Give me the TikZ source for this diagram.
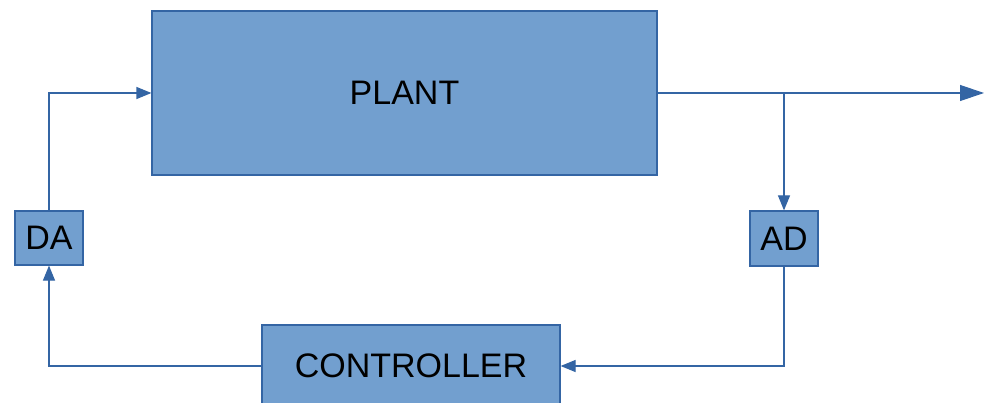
\documentclass[tikz,border=0pt]{standalone}
\usepackage{fontspec}
\setmainfont{Liberation Sans}
\usetikzlibrary{arrows.meta}
\definecolor{boxfill}{HTML}{729FCF}
\definecolor{boxline}{HTML}{3465A4}
\tikzset{
  blk/.style={draw=boxline, fill=boxfill, line width=1.2pt, inner sep=0pt, font=\fontsize{34}{38}\selectfont, text=black},
  conn/.style={draw=boxline, line width=1.2pt, -{Triangle[length=15pt,width=12pt]}},
  outconn/.style={draw=boxline, line width=1.2pt, -{Triangle[length=24pt,width=16pt]}}
}
\begin{document}
\begin{tikzpicture}[x=1pt,y=-1pt]
\useasboundingbox (0,0) rectangle (984,403);
\clip (0,0) rectangle (984,403);
\node[blk, minimum width=505pt, minimum height=164pt] (plant) at (404.5,93) {PLANT};
\node[blk, minimum width=68pt, minimum height=54pt] (da) at (49,238) {DA};
\node[blk, minimum width=68pt, minimum height=55pt] (ad) at (784,238.5) {AD};
\node[blk, minimum width=298pt, minimum height=82pt] (ctrl) at (411,366) {CONTROLLER};
\coordinate (out) at (984,93);
\coordinate (br) at (784,93);
\draw[conn] (da.north) |- (plant.west);
\draw[outconn] (plant.east) -- (out);
\draw[conn] (br) -- (ad.north);
\draw[conn] (ad.south) |- (ctrl.east);
\draw[conn] (ctrl.west) -| (da.south);
\end{tikzpicture}
\end{document}
